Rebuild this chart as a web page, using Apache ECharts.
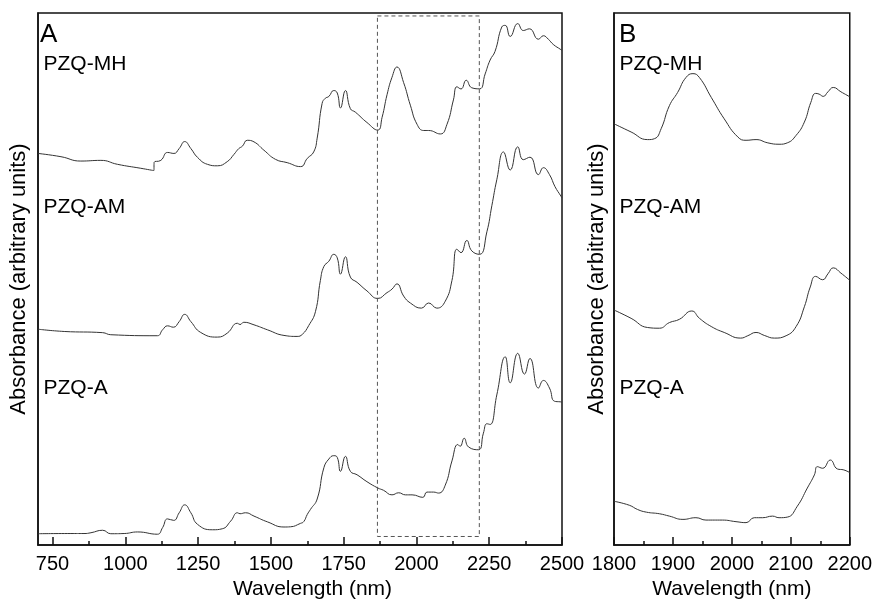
<!DOCTYPE html>
<html>
<head>
<meta charset="utf-8">
<script src="https://cdn.jsdelivr.net/npm/echarts@6.0.0/dist/echarts.min.js"></script>
<style>
html,body{margin:0;padding:0;background:#fff;}
#chart{width:875px;height:605px;}
</style>
</head>
<body>
<div id="chart"></div>
<script>
// ---- Panel A tick positions (nm) ----
const majorTicksA = [750, 1000, 1250, 1500, 1750, 2000, 2250, 2500];
const minorTicksA = [875, 1125, 1375, 1625, 1875, 2125, 2375];

// ---- Panel A spectra: [wavelength nm, absorbance (arbitrary, offset)] ----
const mhA = [[700,396],[779,392.7],[847,388.3],[916,389],[973,385],[1053,381],[1098,378.7],[1099,387],[1122,389],[1145,397],[1167,396],[1185,401],[1204,408],[1225,401],[1248,392],[1282,385],[1316,383.5],[1350,387.7],[1373,395],[1390,401],[1402,403.3],[1419,409.3],[1442,407.7],[1476,399.3],[1516,390],[1556,386.7],[1602,382.7],[1625,391],[1647,397.5],[1659,411.5],[1676,446.6],[1687,451.8],[1699,453.6],[1716,459.6],[1728,457.1],[1739,442],[1756,459.6],[1773,441.3],[1790,437.8],[1830,427.3],[1867,419.6],[1882,432.5],[1899,455.4],[1916,473],[1933,483.4],[1956,467.6],[1979,444.8],[2002,425.5],[2025,419.2],[2042,419.2],[2082,415.7],[2105,425.5],[2127,450.1],[2139,463.4],[2153,461.2],[2171,470],[2190,462.4],[2217,461.3],[2236,476.4],[2253,490.4],[2270,499.2],[2293,523.8],[2305,525.5],[2322,514.3],[2348,527.3],[2367,520.3],[2388,522],[2419,511.5],[2436,515],[2453,511.5],[2470,506.2],[2496,501],[2500,500]];
const amA = [[700,218.3],[790,216],[922,214.8],[950,212.7],[1110,211.7],[1128,217.7],[1145,221.7],[1165,220.3],[1185,226],[1204,233.3],[1225,226],[1259,215],[1316,210.3],[1350,214.3],[1385,224.3],[1394,223],[1407,225.3],[1442,222.7],[1488,217.7],[1545,212],[1590,211],[1608,213.1],[1630,222],[1653,236],[1670,267.6],[1682,281.7],[1699,287],[1716,294],[1728,290.4],[1739,274],[1756,291.5],[1773,271],[1796,265.7],[1830,257],[1867,249.4],[1899,255.3],[1916,258.8],[1933,264.1],[1956,251.8],[1979,244.8],[2017,239.6],[2042,244.8],[2070,239.6],[2099,246.6],[2122,267.6],[2139,299.2],[2153,295.7],[2173,308],[2190,297.5],[2217,294],[2242,316.8],[2259,343.1],[2276,369.4],[2299,397.5],[2322,379.2],[2348,402.7],[2367,389.7],[2390,392.2],[2419,374.6],[2436,381.6],[2457,374.6],[2476,362.4],[2496,353],[2500,351]];
const aA = [[700,11.5],[813,11.7],[858,11.7],[882,12.5],[922,15],[950,11.5],[996,11.7],[1042,13.3],[1110,11],[1128,17.7],[1145,26.5],[1166,25],[1185,32.7],[1204,40.7],[1225,32.7],[1248,21],[1299,15.5],[1333,16.5],[1362,24.3],[1385,32.7],[1394,31.7],[1413,32.7],[1442,29.3],[1488,23.5],[1545,18.3],[1567,18.5],[1602,22],[1613,23.8],[1625,31],[1636,36.1],[1659,46.6],[1682,78.2],[1699,87],[1716,90.4],[1728,88.7],[1739,74.6],[1756,89.7],[1773,74.6],[1796,71.1],[1830,64.1],[1867,57.8],[1887,55.4],[1916,50.8],[1939,52.9],[1962,50.8],[1985,50.8],[2022,48.3],[2036,53.6],[2059,53.6],[2076,52.6],[2099,60.6],[2122,85.1],[2142,101.7],[2150,99.9],[2164,108],[2179,99.2],[2213,96.4],[2230,113.2],[2242,122.7],[2253,122],[2276,151.8],[2305,190.4],[2322,164.1],[2348,193.9],[2371,172.9],[2390,188.7],[2419,158.8],[2436,166.5],[2457,158.8],[2474,145.5],[2496,144.8],[2500,144.5]];

// ---- Dashed zoom box in panel A (nm, absorbance) ----
const boxX = [1866, 2216];
const boxY = [8.7, 535];

// ---- Panel B spectra (1800-2200 nm) ----
const mhB = [[1800,426],[1829,417.7],[1857,410],[1869,411],[1880,421],[1894,444.3],[1908,457.7],[1922,472.7],[1934,476.7],[1945,472.7],[1965,452.7],[1987,431],[2010,412.7],[2024,409.3],[2041,410],[2061,406.7],[2080,405.3],[2094,406.7],[2109,414.3],[2123,427.7],[2134,447.7],[2142,456.7],[2148,456],[2155,453.7],[2163,458.3],[2172,462.7],[2185,458.3],[2200,453.3]];
const amB = [[1800,237.7],[1829,229.3],[1857,220],[1877,219.3],[1894,225],[1911,228.3],[1932,236.7],[1945,229.3],[1965,221],[1987,215],[2015,209.3],[2027,211.7],[2041,215],[2055,212],[2072,209.3],[2092,211.7],[2109,221],[2123,241],[2133,261],[2142,271.7],[2154,268.3],[2163,274.3],[2172,280.3],[2185,275],[2200,267.7]];
const aB = [[1800,44.3],[1826,40.3],[1840,36],[1855,33.3],[1877,31.7],[1894,29.3],[1917,26],[1939,27.7],[1956,25.3],[1984,25.3],[2007,23.7],[2024,22.7],[2038,27.7],[2052,27.7],[2069,29.3],[2080,27.7],[2094,28.3],[2111,39.3],[2128,57.7],[2140,71],[2145,79.3],[2154,77.7],[2167,86],[2179,77],[2190,76],[2200,73.3]];

const sampleLabels = ['PZQ-MH', 'PZQ-AM', 'PZQ-A'];
const panelLabels = ['A', 'B'];

const FONT = 'Liberation Sans, Arial, Helvetica, sans-serif';
const AX = '#111';

const boxData = [[boxX[0],boxY[1]],[boxX[1],boxY[1]],[boxX[1],boxY[0]],[boxX[0],boxY[0]],[boxX[0],boxY[1]]];

function spec(data, xi, yi) {
  return {
    type: 'line', xAxisIndex: xi, yAxisIndex: yi, data: data,
    showSymbol: false, symbol: 'none', smooth: 0.5,
    lineStyle: { color: '#333', width: 1 }, silent: true, animation: false
  };
}
const plain = v => String(v);

const chart = echarts.init(document.getElementById('chart'), null, { renderer: 'canvas' });
const labelY = [64, 207, 388];
const graphics = [];
graphics.push({ type: 'text', x: 40, y: 35, style: { text: panelLabels[0], fontSize: 26, fontFamily: FONT, fill: '#000', verticalAlign: 'middle' } });
graphics.push({ type: 'text', x: 619, y: 35, style: { text: panelLabels[1], fontSize: 26, fontFamily: FONT, fill: '#000', verticalAlign: 'middle' } });
sampleLabels.forEach((t, i) => {
  graphics.push({ type: 'text', x: 43.5, y: labelY[i], style: { text: t, fontSize: 21, fontFamily: FONT, fill: '#000', verticalAlign: 'middle' } });
  graphics.push({ type: 'text', x: 619.5, y: labelY[i], style: { text: t, fontSize: 21, fontFamily: FONT, fill: '#000', verticalAlign: 'middle' } });
});

const option = {
  animation: false,
  textStyle: { fontFamily: FONT },
  grid: [
    { left: 37, top: 13, width: 525, height: 538, show: true, borderColor: AX, borderWidth: 1.5, backgroundColor: 'transparent' },
    { left: 614, top: 13, width: 237, height: 538, show: true, borderColor: AX, borderWidth: 1.5, backgroundColor: 'transparent' }
  ],
  xAxis: [
    {
      gridIndex: 0, type: 'value', min: 700, max: 2500, position: 'bottom',
      axisLine: { show: true, onZero: false, lineStyle: { color: AX, width: 1.5 } },
      axisTick: { show: true, inside: true, length: 8, customValues: majorTicksA, lineStyle: { color: AX, width: 1.5 } },
      axisLabel: { customValues: majorTicksA, formatter: plain, fontSize: 20, color: '#000', margin: 9, fontFamily: FONT },
      splitLine: { show: false },
      name: 'Wavelength (nm)', nameLocation: 'middle', nameGap: 31,
      nameTextStyle: { fontSize: 21, color: '#000', fontFamily: FONT, padding: [0, 0, 0, 25] }
    },
    {
      gridIndex: 0, type: 'value', min: 700, max: 2500, position: 'bottom',
      axisLine: { show: false, onZero: false },
      axisTick: { show: true, inside: true, length: 4, customValues: minorTicksA, lineStyle: { color: AX, width: 1.5 } },
      axisLabel: { show: false },
      splitLine: { show: false }
    },
    {
      gridIndex: 1, type: 'value', min: 1800, max: 2200, interval: 100, position: 'bottom',
      axisLine: { show: true, onZero: false, lineStyle: { color: AX, width: 1.5 } },
      axisTick: { show: true, inside: true, length: 8, lineStyle: { color: AX, width: 1.5 } },
      minorTick: { show: true, splitNumber: 2, length: 4, lineStyle: { color: AX, width: 1.5 } },
      axisLabel: { formatter: plain, fontSize: 20, color: '#000', margin: 9, fontFamily: FONT, showMinLabel: true, showMaxLabel: true },
      splitLine: { show: false },
      name: 'Wavelength (nm)', nameLocation: 'middle', nameGap: 31,
      nameTextStyle: { fontSize: 21, color: '#000', fontFamily: FONT }
    }
  ],
  yAxis: [
    {
      gridIndex: 0, type: 'value', min: 0, max: 538,
      axisLine: { show: true, onZero: false, lineStyle: { color: AX, width: 1.5 } },
      axisTick: { show: false }, axisLabel: { show: false }, splitLine: { show: false },
      name: 'Absorbance (arbitrary units)', nameLocation: 'middle', nameGap: 8,
      nameTextStyle: { fontSize: 22, color: '#000', fontFamily: FONT }
    },
    {
      gridIndex: 1, type: 'value', min: 0, max: 538,
      axisLine: { show: true, onZero: false, lineStyle: { color: AX, width: 1.5 } },
      axisTick: { show: false }, axisLabel: { show: false }, splitLine: { show: false },
      name: 'Absorbance (arbitrary units)', nameLocation: 'middle', nameGap: 6,
      nameTextStyle: { fontSize: 22, color: '#000', fontFamily: FONT }
    }
  ],
  series: [
    spec(mhA, 0, 0), spec(amA, 0, 0), spec(aA, 0, 0),
    {
      type: 'line', xAxisIndex: 0, yAxisIndex: 0, data: boxData, showSymbol: false, symbol: 'none',
      smooth: false, lineStyle: { color: '#555', width: 1, type: [4, 3] }, silent: true
    },
    spec(mhB, 2, 1), spec(amB, 2, 1), spec(aB, 2, 1)
  ],
  graphic: graphics
};
chart.setOption(option);
</script>
</body>
</html>
